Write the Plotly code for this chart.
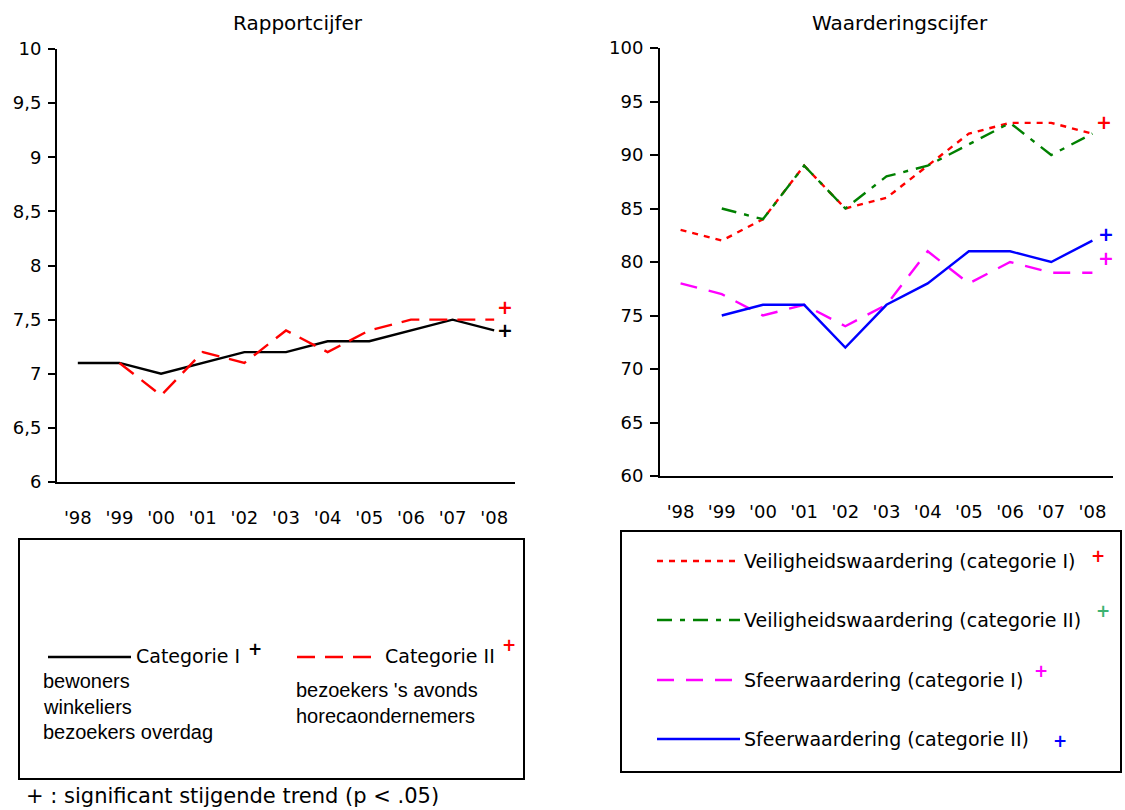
import plotly.graph_objects as go

# data
years = ["'98", "'99", "'00", "'01", "'02", "'03", "'04", "'05", "'06", "'07", "'08"]

rapport_cat1 = [7.1, 7.1, 7.0, 7.1, 7.2, 7.2, 7.3, 7.3, 7.4, 7.5, 7.4]
rapport_cat2 = [None, 7.1, 6.8, 7.2, 7.1, 7.4, 7.2, 7.4, 7.5, 7.5, 7.5]

veilig_cat1 = [83, 82, 84, 89, 85, 86, 89, 92, 93, 93, 92]
veilig_cat2 = [None, 85, 84, 89, 85, 88, 89, 91, 93, 90, 92]
sfeer_cat1 = [78, 77, 75, 76, 74, 76, 81, 78, 80, 79, 79]
sfeer_cat2 = [None, 75, 76, 76, 72, 76, 78, 81, 81, 80, 82]

# height of the "+" trend markers next to '08
plus_rapport = [7.62, 7.4]
plus_waardering = [93.1, 93.1, 80.4, 82.6]

W, H = 1125, 810
FONT = "DejaVu Sans"
LW = 2.4
x = list(range(len(years)))


def px(v):
    return v / W


def py(v):
    return 1 - v / H


fig = go.Figure()

# left panel
fig.add_trace(go.Scatter(x=x, y=rapport_cat1, mode='lines', line=dict(color='black', width=LW),
                         xaxis='x', yaxis='y', showlegend=False))
fig.add_trace(go.Scatter(x=x, y=rapport_cat2, mode='lines', line=dict(color='red', width=LW, dash='18px,10px'),
                         xaxis='x', yaxis='y', showlegend=False))

# right panel
fig.add_trace(go.Scatter(x=x, y=veilig_cat1, mode='lines', line=dict(color='red', width=LW, dash='6px,6px'),
                         xaxis='x2', yaxis='y2', showlegend=False))
fig.add_trace(go.Scatter(x=x, y=veilig_cat2, mode='lines', line=dict(color='green', width=LW, dash='15px,8px,5px,8px'),
                         xaxis='x2', yaxis='y2', showlegend=False))
fig.add_trace(go.Scatter(x=x, y=sfeer_cat1, mode='lines', line=dict(color='magenta', width=LW, dash='17px,12px'),
                         xaxis='x2', yaxis='y2', showlegend=False))
fig.add_trace(go.Scatter(x=x, y=sfeer_cat2, mode='lines', line=dict(color='blue', width=LW),
                         xaxis='x2', yaxis='y2', showlegend=False))

axis_common = dict(showline=True, linecolor='black', linewidth=2, showgrid=False, zeroline=False,
                   automargin=False, tickfont=dict(family=FONT, size=18, color='black'))

fig.update_layout(
    width=W, height=H,
    margin=dict(l=0, r=0, t=0, b=0),
    paper_bgcolor='white', plot_bgcolor='white',
    separators=', ',
    font=dict(family=FONT, color='black'),
    xaxis=dict(domain=[px(57), px(515)], range=[-0.5, 10.5], tickvals=x, ticktext=years,
               ticks='', ticklabelstandoff=18, anchor='y', **axis_common),
    yaxis=dict(domain=[py(482), py(49)], range=[6, 10], dtick=0.5, ticks='outside', ticklen=7,
               tickwidth=2, tickcolor='black', ticklabelstandoff=3, anchor='x', **axis_common),
    xaxis2=dict(domain=[px(660), px(1113)], range=[-0.5, 10.5], tickvals=x, ticktext=years,
                ticks='', ticklabelstandoff=18, anchor='y2', **axis_common),
    yaxis2=dict(domain=[py(476), py(48)], range=[60, 100], dtick=5, ticks='outside', ticklen=8,
                tickwidth=2, tickcolor='black', ticklabelstandoff=3, anchor='x2', **axis_common),
)

ann = []


def txt(s, x0, y0, size=19, color='black', family=FONT, xanchor='left'):
    ann.append(dict(text=s, x=px(x0), y=py(y0), xref='paper', yref='paper', showarrow=False,
                    xanchor=xanchor, yanchor='middle', font=dict(size=size, color=color, family=family)))


# titles
txt('Rapportcijfer', 298, 23, size=20, xanchor='center')
txt('Waarderingscijfer', 900, 23, size=20, xanchor='center')

# trend markers in the plots
for yv, col in zip(plus_rapport, ['red', 'black']):
    ann.append(dict(text='<b>+</b>', x=10.27, y=yv, xref='x', yref='y', showarrow=False,
                    xanchor='center', yanchor='middle', font=dict(size=19, color=col, family=FONT)))
for yv, xv, col in zip(plus_waardering, [10.29, 10.73, 10.33, 10.33],
                       ['red', 'mediumseagreen', 'magenta', 'blue']):
    ann.append(dict(text='<b>+</b>', x=xv, y=yv, xref='x2', yref='y2', showarrow=False,
                    xanchor='center', yanchor='middle', font=dict(size=19, color=col, family=FONT)))

shapes = []
# left legend box
shapes.append(dict(type='rect', xref='paper', yref='paper', x0=px(19), x1=px(524), y0=py(539), y1=py(779),
                   line=dict(color='black', width=2)))
shapes.append(dict(type='line', xref='paper', yref='paper', x0=px(48), x1=px(131), y0=py(657), y1=py(657),
                   line=dict(color='black', width=LW)))
shapes.append(dict(type='line', xref='paper', yref='paper', x0=px(297), x1=px(373), y0=py(657), y1=py(657),
                   line=dict(color='red', width=LW, dash='18px,10px')))

txt('Categorie I', 134, 656)
txt('<b>+</b>', 246, 649, size=17)
txt('Categorie II', 383, 656)
txt('<b>+</b>', 500, 645, size=17, color='red')
for i, s in enumerate(['bewoners', 'winkeliers', 'bezoekers overdag']):
    txt(s, 41, 681 + i * 25.5, size=20, family='Liberation Sans')
for i, s in enumerate(["bezoekers 's avonds", 'horecaondernemers']):
    txt(s, 294, 690 + i * 25.5, size=20, family='Liberation Sans')
txt('+ : significant stijgende trend (p < .05)', 24, 796, size=21)

# right legend box
shapes.append(dict(type='rect', xref='paper', yref='paper', x0=px(621), x1=px(1121), y0=py(531), y1=py(772),
                   line=dict(color='black', width=2)))
leg_rows = [
    ('Veiligheidswaardering (categorie I)', 'red', '6px,6px', 1098, 556),
    ('Veiligheidswaardering (categorie II)', 'green', '15px,8px,5px,8px', 1103, 611),
    ('Sfeerwaardering (categorie I)', 'magenta', '17px,12px', 1041, 671),
    ('Sfeerwaardering (categorie II)', 'blue', 'solid', 1060, 741),
]
plus_colors = ['red', 'mediumseagreen', 'magenta', 'blue']
for i, (lab, col, dash, plx, ply) in enumerate(leg_rows):
    yy = [561, 620, 680, 739][i]
    shapes.append(dict(type='line', xref='paper', yref='paper', x0=px(657), x1=px(740), y0=py(yy), y1=py(yy),
                       line=dict(color=col, width=LW, dash=dash)))
    txt(lab, 742, yy, size=19)
    txt('<b>+</b>', plx, ply, size=17, color=plus_colors[i], xanchor='center')

fig.update_layout(annotations=ann, shapes=shapes)

fig.write_html("out.html", config={'displayModeBar': False},
               post_script="document.body.style.margin='0';document.body.style.overflow='hidden';")
